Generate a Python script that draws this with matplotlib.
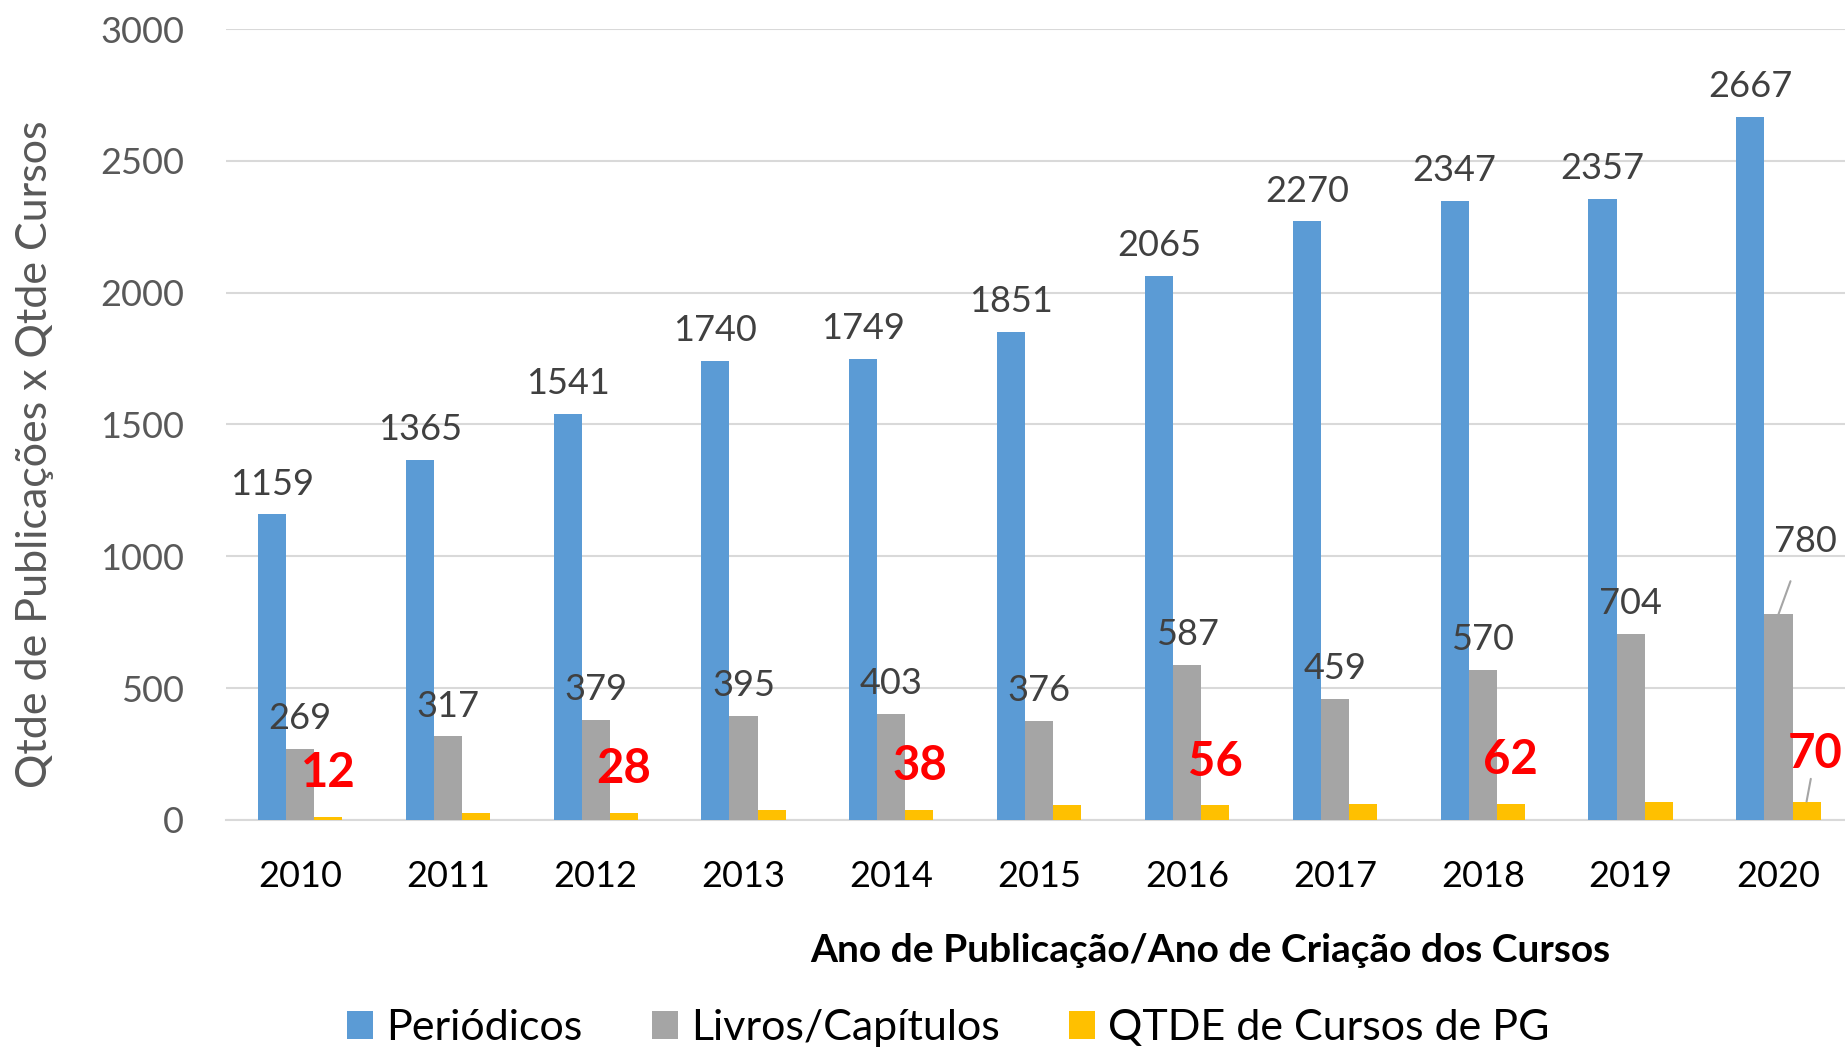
import matplotlib.pyplot as plt
import numpy as np

plt.rcParams['font.family'] = ['Lato', 'DejaVu Sans']

# data
anos = ['2010', '2011', '2012', '2013', '2014', '2015', '2016', '2017', '2018', '2019', '2020']
periodicos = [1159, 1365, 1541, 1740, 1749, 1851, 2065, 2270, 2347, 2357, 2667]
livros = [269, 317, 379, 395, 403, 376, 587, 459, 570, 704, 780]
cursos_pg = [12, 28, 28, 38, 38, 56, 56, 62, 62, 70, 70]
# only every other year has the red label
cursos_rotulo = [True, False, True, False, True, False, True, False, True, False, True]

cor_azul = '#5B9BD5'
cor_cinza = '#A5A5A5'
cor_amarelo = '#FFC000'

fig = plt.figure(figsize=(18.45, 10.51), dpi=100)
ax = fig.add_axes([0.1225, 0.2198, 0.8775, 0.7526])

x = np.arange(len(anos))
w = 0.19

b1 = ax.bar(x - w, periodicos, w, color=cor_azul, label='Periódicos', zorder=3)
b2 = ax.bar(x, livros, w, color=cor_cinza, label='Livros/Capítulos', zorder=3)
b3 = ax.bar(x + w, cursos_pg, w, color=cor_amarelo, label='QTDE de Cursos de PG', zorder=3)

# labels on top of the blue and gray bars
for i in range(len(anos)):
    ax.annotate(str(periodicos[i]), (x[i] - w, periodicos[i]), xytext=(0, 10),
                textcoords='offset points', ha='center', va='bottom',
                fontsize=26, color='#404040')
    if i == len(anos) - 1:
        # last one pushed up with a leader line
        ax.annotate(str(livros[i]), (x[i], livros[i]), xytext=(x[i] + 0.18, 1058),
                    ha='center', va='center', fontsize=26, color='#404040',
                    arrowprops=dict(arrowstyle='-', color='#A5A5A5', lw=1.5,
                                    shrinkA=16, shrinkB=0))
    else:
        ax.annotate(str(livros[i]), (x[i], livros[i]), xytext=(0, 10),
                    textcoords='offset points', ha='center', va='bottom',
                    fontsize=26, color='#404040')

# red labels for the courses
for i in range(len(anos)):
    if not cursos_rotulo[i]:
        continue
    if i == len(anos) - 1:
        ax.annotate(str(cursos_pg[i]), (x[i] + w, cursos_pg[i]),
                    xytext=(x[i] + w + 0.06, 250),
                    ha='center', va='center', fontsize=34, fontweight='bold', color='red',
                    arrowprops=dict(arrowstyle='-', color='#A5A5A5', lw=1.5,
                                    shrinkA=22, shrinkB=0))
    else:
        ax.text(x[i] + w, cursos_pg[i] + 165, str(cursos_pg[i]), ha='center', va='center',
                fontsize=34, fontweight='bold', color='red', zorder=4)

ax.set_xlim(-0.5, 10.45)
ax.set_ylim(0, 3000)
ax.set_yticks(range(0, 3001, 500))
ax.set_xticks(x)
ax.set_xticklabels(anos)
ax.tick_params(axis='y', labelsize=26, labelcolor='#595959', length=0, pad=30)
ax.tick_params(axis='x', labelsize=26, labelcolor='black', length=0, pad=29)

ax.grid(axis='y', color='#D9D9D9', lw=1.5, zorder=0)
for s in ['top', 'right', 'left']:
    ax.spines[s].set_visible(False)
ax.spines['bottom'].set_color('#D9D9D9')
ax.spines['bottom'].set_linewidth(1.5)

fig.text(0.019, 0.568, 'Qtde de Publicações x Qtde Cursos', rotation=90,
         ha='center', va='center', fontsize=31, color='#595959')
fig.text(0.656, 0.096, 'Ano de Publicação/Ano de Criação dos Cursos',
         ha='center', va='center', fontsize=28, fontweight='bold', color='black')

fig.legend(handles=[b1, b2, b3], loc='center', bbox_to_anchor=(0.514, 0.022),
           ncol=3, frameon=False, fontsize=31, handlelength=0.62, handleheight=0.62,
           handletextpad=0.3, columnspacing=1.6)

fig.savefig('out.png', dpi=100)
